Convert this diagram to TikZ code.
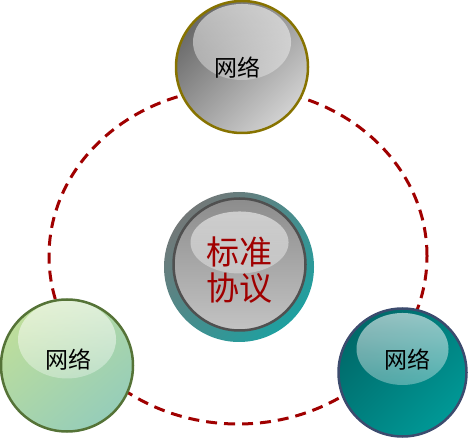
\documentclass[tikz,border=0pt]{standalone}
\usepackage{fontspec}
\newfontfamily\cjk{Noto Sans CJK SC}
\usetikzlibrary{fadings}

\definecolor{dashred}{RGB}{160,0,0}
\definecolor{olive}{RGB}{135,115,0}
\definecolor{leafgreen}{RGB}{85,115,55}
\definecolor{slateblue}{RGB}{60,75,110}
\definecolor{ringgray}{RGB}{80,80,80}

\tikzfading[name=glare, top color=transparent!40, bottom color=transparent!88]

\tikzset{
  ball/.style={circle, inner sep=0pt, minimum size=#1, line width=2.5pt},
  shine/.style n args={3}{path picture={
    \fill[white, path fading=glare] ([yshift=#1]path picture bounding box.center) ellipse (#2 and #3);}},
  netlabel/.style={font=\cjk\fontsize{23}{27}\selectfont, text=black},
}

\begin{document}
\begin{tikzpicture}[x=1pt, y=1pt]
\useasboundingbox (0,0) rectangle (470,438);

\draw[dashred, line width=3pt, dash pattern=on 11pt off 7pt] (238,182) ellipse (189 and 168);

\node[ball=150pt, top color={rgb,255:red,115;green,120;blue,120}, bottom color={rgb,255:red,30;green,160;blue,160}, shading angle=45] (protoring) at (239,171) {};
\node[ball=132pt, draw=ringgray, top color={rgb,255:red,140;green,140;blue,140}, bottom color={rgb,255:red,195;green,195;blue,195}, shine={22pt}{49pt}{31pt}] (proto) at (239.5,173.5) {};
\node[font=\cjk\fontsize{33}{36}\selectfont, text=dashred, align=center] (prototext) at (239,168) {标准\\协议};

\node[ball=132pt, draw=olive, top color={rgb,255:red,105;green,105;blue,105}, bottom color={rgb,255:red,210;green,210;blue,210}, shading angle=45, shine={25pt}{49pt}{38pt}] (nettop) at (242,371) {};
\node[netlabel] (nettoptext) at (237,370) {网络};

\node[ball=132pt, draw=leafgreen, top color={rgb,255:red,190;green,222;blue,155}, middle color={rgb,255:red,172;green,212;blue,115}, bottom color={rgb,255:red,150;green,205;blue,185}, shading angle=40, shine={26pt}{49pt}{39pt}] (netleft) at (67,72.5) {};
\node[netlabel] (netlefttext) at (68,78) {网络};

\node[ball=128pt, draw=slateblue, top color={rgb,255:red,0;green,105;blue,105}, bottom color={rgb,255:red,0;green,152;blue,150}, shading angle=45, shine={23.5pt}{46pt}{36pt}] (netright) at (402.5,65.5) {};
\node[netlabel] (netrighttext) at (407,78) {网络};

\end{tikzpicture}
\end{document}
